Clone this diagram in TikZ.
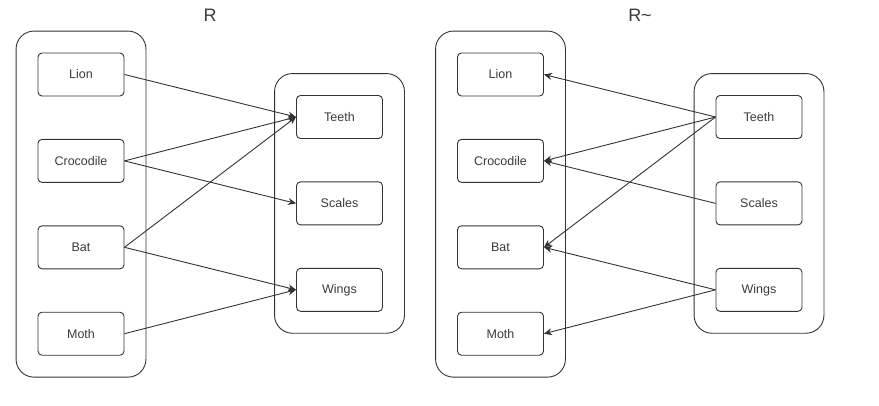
\documentclass[tikz,border=0pt]{standalone}
\usepackage{fontspec}
\setmainfont{Liberation Sans}
\usetikzlibrary{positioning,fit,arrows.meta}

\definecolor{linegray}{HTML}{333333}
\definecolor{textgray}{HTML}{3A3A3A}

\begin{document}
\begin{tikzpicture}[
x=1pt, y=1pt,
item/.style={rectangle, draw=linegray, line width=0.9pt, rounded corners=4pt,
        minimum width=86pt, minimum height=43pt, inner sep=0pt,
        text=textgray, font=\fontsize{12.5}{14}\selectfont},
group/.style={rectangle, draw=linegray, line width=0.9pt, rounded corners=18pt, inner sep=21.5pt},
title/.style={text=textgray, font=\fontsize{18}{20}\selectfont},
rel/.style={-{Stealth[length=8pt,width=7pt]}, draw=linegray, line width=0.9pt},
node distance=42.5pt
]
  \useasboundingbox (0,0) rectangle (879,-405);

  % R
  \node[title] (titleR) at (210,-15) {R};
  \node[item] (lion) at (81,-74.5) {Lion};
  \node[item, below=of lion] (croc) {Crocodile};
  \node[item, below=of croc] (bat) {Bat};
  \node[item, below=of bat] (moth) {Moth};
  \node[item] (teeth) at (339.5,-117) {Teeth};
  \node[item, below=of teeth] (scales) {Scales};
  \node[item, below=of scales] (wings) {Wings};
  \node[group, fit=(lion)(moth)] (animals) {};
  \node[group, fit=(teeth)(wings)] (traits) {};

  \draw[rel] (lion.east) -- (teeth.west);
  \draw[rel] (croc.east) -- (teeth.west);
  \draw[rel] (croc.east) -- (scales.west);
  \draw[rel] (bat.east) -- (teeth.west);
  \draw[rel] (bat.east) -- (wings.west);
  \draw[rel] (moth.east) -- (wings.west);

  % R~
  \node[title] (titleRinv) at (640,-15) {R\textasciitilde};
  \node[item] (lionB) at (500.5,-74.5) {Lion};
  \node[item, below=of lionB] (crocB) {Crocodile};
  \node[item, below=of crocB] (batB) {Bat};
  \node[item, below=of batB] (mothB) {Moth};
  \node[item] (teethB) at (759,-117) {Teeth};
  \node[item, below=of teethB] (scalesB) {Scales};
  \node[item, below=of scalesB] (wingsB) {Wings};
  \node[group, fit=(lionB)(mothB)] (animalsB) {};
  \node[group, fit=(teethB)(wingsB)] (traitsB) {};

  \draw[rel] (teethB.west) -- (lionB.east);
  \draw[rel] (teethB.west) -- (crocB.east);
  \draw[rel] (teethB.west) -- (batB.east);
  \draw[rel] (scalesB.west) -- (crocB.east);
  \draw[rel] (wingsB.west) -- (batB.east);
  \draw[rel] (wingsB.west) -- (mothB.east);
\end{tikzpicture}
\end{document}
